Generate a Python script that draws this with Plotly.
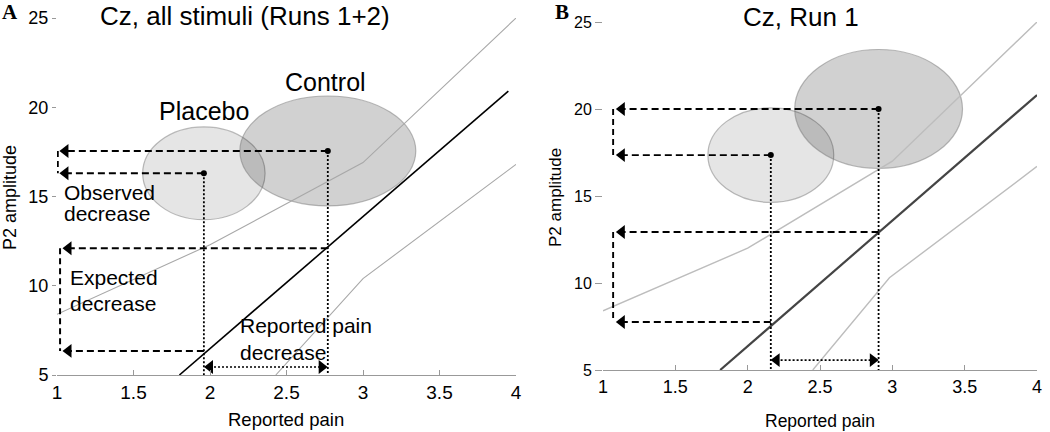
import plotly.graph_objects as go

FONT = "Liberation Sans, Arial, sans-serif"

# ---------------- data ----------------
x_ticks = [1, 1.5, 2, 2.5, 3, 3.5, 4]
x_tick_text = ["1", "1.5", "2", "2.5", "3", "3.5", "4"]
y_ticks = [5, 10, 15, 20, 25]
y_tick_text = ["5", "10", "15", "20", "25"]

# Panel A: Cz, all stimuli (Runs 1+2)
a_fit_x = [1.8, 3.95]
a_fit_y = [5.0, 20.9]
a_upper_x = [1.0, 2.0, 3.0, 4.0]
a_upper_y = [8.4, 12.3, 16.9, 25.0]
a_lower_x = [2.43, 3.0, 4.0]
a_lower_y = [5.0, 10.4, 16.8]
a_groups = ["Placebo", "Control"]
a_pain = [1.96, 2.77]          # reported pain (means)
a_p2 = [16.3, 17.55]           # observed P2 amplitude (means)
a_rx = [0.40, 0.575]           # ellipse half-widths (pain)
a_ry = [2.6, 3.08]             # ellipse half-heights (P2)
a_expected = [6.35, 12.1]      # P2 expected from regression line

# Panel B: Cz, Run 1
b_fit_x = [1.81, 4.0]
b_fit_y = [5.0, 20.8]
b_upper_x = [1.0, 2.0, 3.0, 4.0]
b_upper_y = [8.4, 12.0, 17.0, 25.0]
b_lower_x = [2.45, 2.98, 4.0]
b_lower_y = [5.0, 10.3, 16.7]
b_pain = [2.16, 2.905]
b_p2 = [17.35, 20.0]
b_rx = [0.435, 0.58]
b_ry = [2.72, 3.42]
b_expected = [7.76, 12.93]

fig = go.Figure()

ELL_FILL = ["rgba(0,0,0,0.10)", "rgba(0,0,0,0.18)"]


def add_panel(k, fit_x, fit_y, up_x, up_y, lo_x, lo_y, pain, p2, rx, ry, expected,
              obs_conn_x, exp_conn_x, head_x, dbl_y, fit_color, fit_w, band_color, band_w, dash_w):
    xa = "x" if k == 1 else "x2"
    ya = "y" if k == 1 else "y2"
    common = dict(xaxis=xa, yaxis=ya, showlegend=False, hoverinfo="skip")
    fig.add_trace(go.Scatter(x=up_x, y=up_y, mode="lines",
                             line=dict(color=band_color, width=band_w), **common))
    fig.add_trace(go.Scatter(x=lo_x, y=lo_y, mode="lines",
                             line=dict(color=band_color, width=band_w), **common))
    fig.add_trace(go.Scatter(x=fit_x, y=fit_y, mode="lines",
                             line=dict(color=fit_color, width=fit_w), **common))
    for i in range(2):
        fig.add_shape(type="circle", xref=xa, yref=ya,
                      x0=pain[i] - rx[i], x1=pain[i] + rx[i],
                      y0=p2[i] - ry[i], y1=p2[i] + ry[i],
                      fillcolor=ELL_FILL[i], line=dict(color="rgba(120,120,120,0.5)", width=1.2),
                      layer="below")
    dash = "7px,4px"
    dot = "2px,2px"
    for i in range(2):
        fig.add_trace(go.Scatter(x=[pain[i], head_x[0]], y=[p2[i], p2[i]], mode="lines",
                                 line=dict(color="black", width=dash_w, dash=dash), **common))
        fig.add_trace(go.Scatter(x=[pain[i], head_x[1]], y=[expected[i], expected[i]], mode="lines",
                                 line=dict(color="black", width=dash_w, dash=dash), **common))
        fig.add_trace(go.Scatter(x=[pain[i], pain[i]], y=[p2[i], 5], mode="lines",
                                 line=dict(color="black", width=1.8, dash=dot), **common))
    fig.add_trace(go.Scatter(x=[head_x[0], head_x[0], head_x[1], head_x[1]],
                             y=[p2[0], p2[1], expected[0], expected[1]], mode="markers",
                             marker=dict(symbol="triangle-left", size=12, color="black"), **common))
    fig.add_trace(go.Scatter(x=[obs_conn_x, obs_conn_x], y=[p2[1], p2[0]], mode="lines",
                             line=dict(color="black", width=dash_w, dash="6px,4px"), **common))
    fig.add_trace(go.Scatter(x=[exp_conn_x, exp_conn_x], y=[expected[1], expected[0]], mode="lines",
                             line=dict(color="black", width=dash_w, dash="6px,4px"), **common))
    fig.add_trace(go.Scatter(x=pain, y=p2, mode="markers",
                             marker=dict(size=6, color="black"), **common))
    off = 0.04
    fig.add_trace(go.Scatter(x=[pain[0] + off, pain[1] - off], y=[dbl_y, dbl_y], mode="lines",
                             line=dict(color="black", width=1.6, dash=dot), **common))
    fig.add_trace(go.Scatter(x=[pain[0] + off, pain[1] - off], y=[dbl_y, dbl_y], mode="markers",
                             marker=dict(symbol=["triangle-left", "triangle-right"], size=12, color="black"),
                             **common))


add_panel(1, a_fit_x, a_fit_y, a_upper_x, a_upper_y, a_lower_x, a_lower_y,
          a_pain, a_p2, a_rx, a_ry, a_expected,
          obs_conn_x=1.005, exp_conn_x=1.02, head_x=[1.055, 1.075], dbl_y=5.45,
          fit_color="black", fit_w=1.6, band_color="#a8a8a8", band_w=1.1, dash_w=2.0)
add_panel(2, b_fit_x, b_fit_y, b_upper_x, b_upper_y, b_lower_x, b_lower_y,
          b_pain, b_p2, b_rx, b_ry, b_expected,
          obs_conn_x=1.07, exp_conn_x=1.07, head_x=[1.13, 1.13], dbl_y=5.57,
          fit_color="#444444", fit_w=2.2, band_color="#bdbdbd", band_w=1.4, dash_w=1.9)

xax = dict(range=[1, 4], tickvals=x_ticks, ticktext=x_tick_text, ticks="inside", ticklen=5,
           tickcolor="#999999", showline=True, linecolor="#999999", linewidth=1.2,
           showgrid=False, zeroline=False, fixedrange=True, automargin=False)
yax = dict(range=[5, 25], tickvals=y_ticks, ticktext=y_tick_text, ticks="outside", ticklen=4,
           tickcolor="#999999", showline=False, showgrid=False, zeroline=False, fixedrange=True,
           automargin=False)

fig.update_layout(
    template="none",
    width=1050, height=432,
    margin=dict(l=0, r=0, t=0, b=0, autoexpand=False),
    paper_bgcolor="white", plot_bgcolor="white",
    font=dict(family=FONT, color="black"),
    xaxis=dict(xax, domain=[57 / 1050, 516 / 1050], anchor="y", tickfont=dict(size=19)),
    yaxis=dict(yax, domain=[(432 - 375) / 432, (432 - 18) / 432], anchor="x", tickfont=dict(size=18)),
    xaxis2=dict(xax, domain=[603 / 1050, 1037 / 1050], anchor="y2", tickfont=dict(size=18)),
    yaxis2=dict(yax, domain=[(432 - 370) / 432, (432 - 22) / 432], anchor="x2", tickfont=dict(size=16),
                ticklen=7),
)

ann = []
ann.append(dict(text="Cz, all stimuli (Runs 1+2)", x=245 / 1050, y=1 - 16 / 432, xref="paper", yref="paper",
                showarrow=False, font=dict(size=26), xanchor="center", yanchor="middle"))
ann.append(dict(text="Cz, Run 1", x=801 / 1050, y=1 - 17 / 432, xref="paper", yref="paper",
                showarrow=False, font=dict(size=26), xanchor="center", yanchor="middle"))
ann.append(dict(text="<b>A</b>", x=10 / 1050, y=1 - 12 / 432, xref="paper", yref="paper",
                showarrow=False, font=dict(size=21, family="Liberation Serif, Times New Roman, serif"),
                xanchor="center", yanchor="middle"))
ann.append(dict(text="<b>B</b>", x=562 / 1050, y=1 - 12 / 432, xref="paper", yref="paper",
                showarrow=False, font=dict(size=21, family="Liberation Serif, Times New Roman, serif"),
                xanchor="center", yanchor="middle"))
ann.append(dict(text="Reported pain", x=286 / 1050, y=1 - 419 / 432, xref="paper", yref="paper",
                showarrow=False, font=dict(size=18.5), xanchor="center", yanchor="middle"))
ann.append(dict(text="Reported pain", x=820 / 1050, y=1 - 421 / 432, xref="paper", yref="paper",
                showarrow=False, font=dict(size=17.5), xanchor="center", yanchor="middle"))
ann.append(dict(text="P2 amplitude", x=10 / 1050, y=1 - 198 / 432, xref="paper", yref="paper",
                showarrow=False, font=dict(size=18), textangle=-90, xanchor="center", yanchor="middle"))
ann.append(dict(text="P2 amplitude", x=556 / 1050, y=1 - 198 / 432, xref="paper", yref="paper",
                showarrow=False, font=dict(size=17), textangle=-90, xanchor="center", yanchor="middle"))
ann.append(dict(text=a_groups[1], x=2.755, y=21.4, xref="x", yref="y", showarrow=False,
                font=dict(size=25), xanchor="center", yanchor="middle"))
ann.append(dict(text=a_groups[0], x=1.96, y=19.8, xref="x", yref="y", showarrow=False,
                font=dict(size=25), xanchor="center", yanchor="middle"))
for txt, xx, yy in [("Observed", 1.03, 15.2), ("decrease", 1.03, 14.05),
                    ("Expected", 1.07, 10.45), ("decrease", 1.07, 8.98),
                    ("Reported pain", 2.18, 7.75), ("decrease", 2.18, 6.25)]:
    ann.append(dict(text=txt, x=xx, y=yy, xref="x", yref="y", showarrow=False,
                    font=dict(size=21), xanchor="left", yanchor="middle"))

fig.update_layout(annotations=ann)

fig.write_html("out.html", config={"displayModeBar": False, "staticPlot": True},
               post_script="document.body.style.margin='0px';document.body.style.overflow='hidden';")
